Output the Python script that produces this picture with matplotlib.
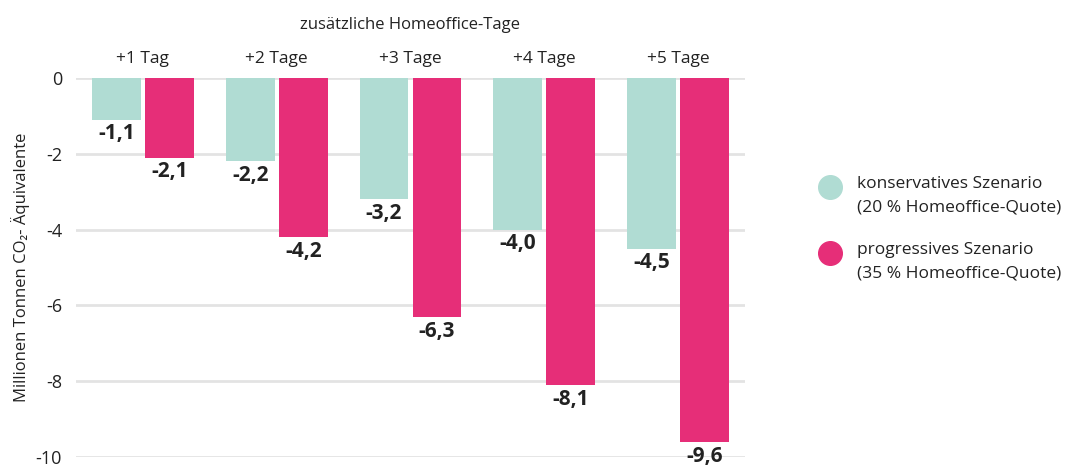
import numpy as np
import matplotlib.pyplot as plt
from matplotlib.lines import Line2D

categories = ['+1 Tag', '+2 Tage', '+3 Tage', '+4 Tage', '+5 Tage']
konservativ = [-1.1, -2.2, -3.2, -4.0, -4.5]
progressiv = [-2.1, -4.2, -6.3, -8.1, -9.6]
series_names = ['konservatives Szenario\n(20 % Homeoffice-Quote)',
                'progressives Szenario\n(35 % Homeoffice-Quote)']
yticks = [0, -2, -4, -6, -8, -10]

teal = '#b0dcd3'
pink = '#e62e78'
textcol = '#222222'

plt.rcParams['font.family'] = ['Open Sans', 'DejaVu Sans']

fig = plt.figure(figsize=(10.69, 4.68), dpi=100)
ax = fig.add_axes([76/1069, 1-457/468, 669/1069, 379/468])

x = np.arange(len(categories))
w = 0.366
off = 0.198
ax.bar(x - off, konservativ, w, color=teal, zorder=3)
ax.bar(x + off, progressiv, w, color=pink, zorder=3)

for i in range(len(categories)):
    ax.text(x[i] - off, konservativ[i] - 0.1, ('%.1f' % konservativ[i]).replace('.', ','),
            ha='center', va='top', fontsize=15, fontweight='bold', color=textcol)
    ax.text(x[i] + off, progressiv[i] - 0.1, ('%.1f' % progressiv[i]).replace('.', ','),
            ha='center', va='top', fontsize=15, fontweight='bold', color=textcol)

ax.set_xlim(-0.5, len(categories) - 0.5)
ax.set_ylim(-10, 0)
ax.set_yticks(yticks)
ax.set_yticklabels([str(t) for t in yticks], fontsize=13, color=textcol)
ax.tick_params(axis='y', length=0, pad=10)
ax.grid(axis='y', color='#e3e3e3', lw=2, zorder=0)
ax.set_axisbelow(True)
for s in ax.spines.values():
    s.set_visible(False)

ax.xaxis.tick_top()
ax.set_xticks(x)
ax.set_xticklabels(categories, fontsize=12.5, color=textcol)
ax.tick_params(axis='x', length=0, pad=8)
ax.set_xlabel('zusätzliche Homeoffice-Tage', fontsize=12, color=textcol, labelpad=16)
ax.xaxis.set_label_position('top')
ax.set_ylabel('Millionen Tonnen CO₂- Äquivalente', fontsize=12, color=textcol, labelpad=4)

# legend drawn by hand so the dot sits on the first text line
for name, col, ypx in zip(series_names, [teal, pink], [187, 253]):
    yf = 1 - ypx/468
    fig.add_artist(Line2D([830/1069], [yf], ls='', marker='o', markersize=17,
                          color=col, transform=fig.transFigure))
    fig.text(857/1069, yf + 11/468, name, ha='left', va='top', fontsize=12.5,
             color=textcol, linespacing=1.6)

fig.savefig('out.png', dpi=100)
